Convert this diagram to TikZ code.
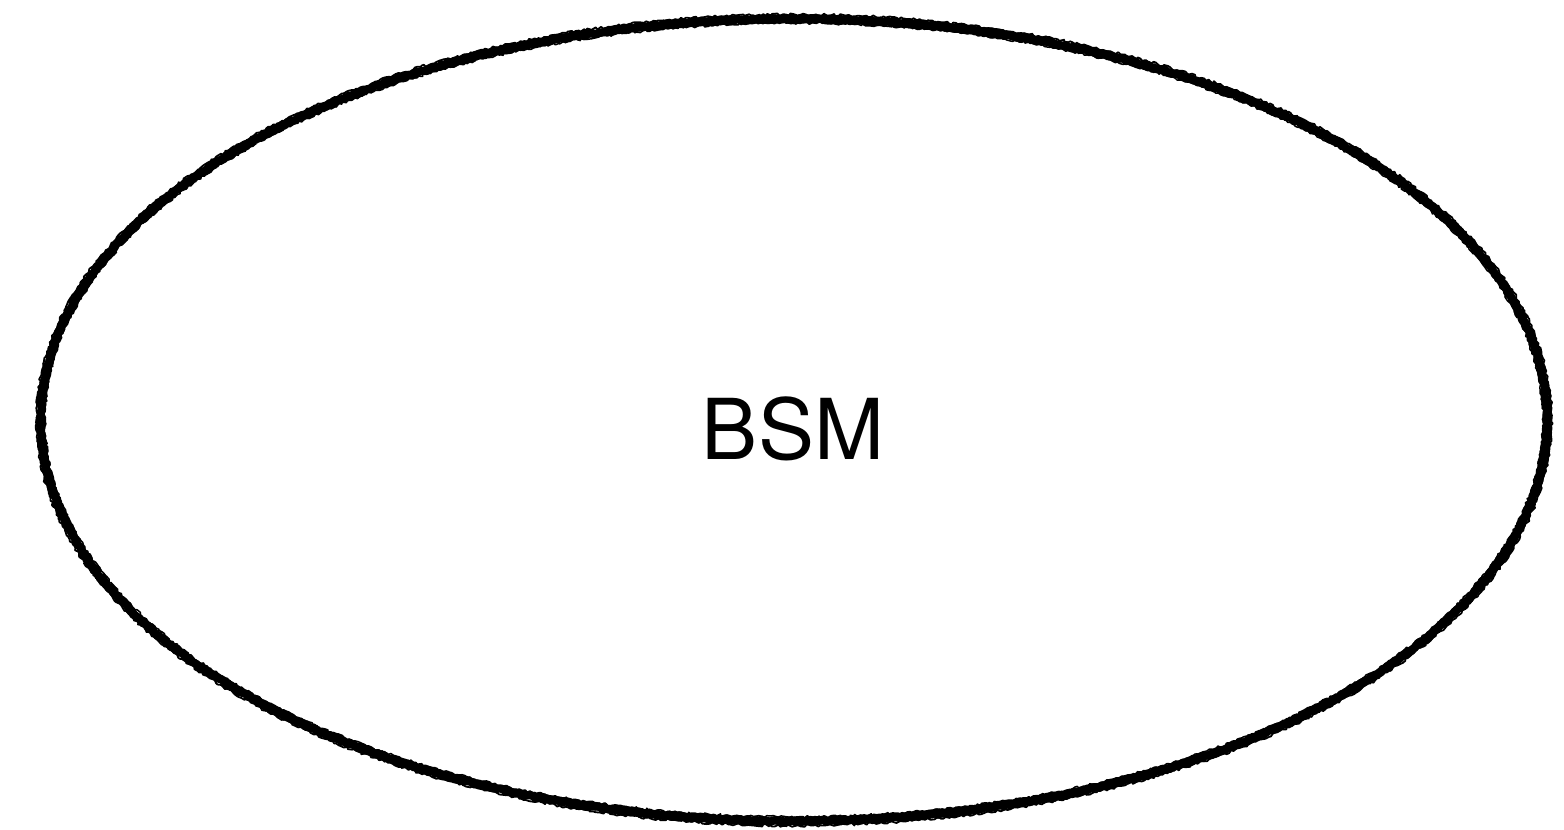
\documentclass[tikz,border=0pt]{standalone}
\usepackage{fontspec}
\setmainfont{TeX Gyre Heros}
\usetikzlibrary{shapes.geometric,decorations.pathmorphing}
\begin{document}
\begin{tikzpicture}[x=1pt,y=-1pt,
  roughline/.style={draw=black, line width=#1, line join=round, line cap=round,
    decorate, decoration={random steps, segment length=2.5pt, amplitude=1.3pt}},
  outline/.style={ellipse, inner sep=0pt, roughline=8pt},
  labeltext/.style={font=\fontsize{84}{88}\selectfont, text=black}]
  \useasboundingbox (0,0) rectangle (1564,830);
  % main ellipse with a thick rough stroke
  \node[outline, minimum width=1506pt, minimum height=802pt] (bsm) at (794,420) {};
  % extra pencil passes along the same outline
  \draw[roughline=2.6pt] (bsm.center) ellipse [x radius=756pt, y radius=404pt];
  \draw[roughline=2.4pt] (bsm.center) ellipse [x radius=750pt, y radius=398pt];
  \draw[roughline=1.8pt] (bsm.center) ellipse [x radius=757.5pt, y radius=405.5pt];
  \draw[roughline=1.5pt] (bsm.center) ellipse [x radius=749pt, y radius=397pt];
  \node[labeltext] (name) at (793,429) {BSM};
\end{tikzpicture}
\end{document}
